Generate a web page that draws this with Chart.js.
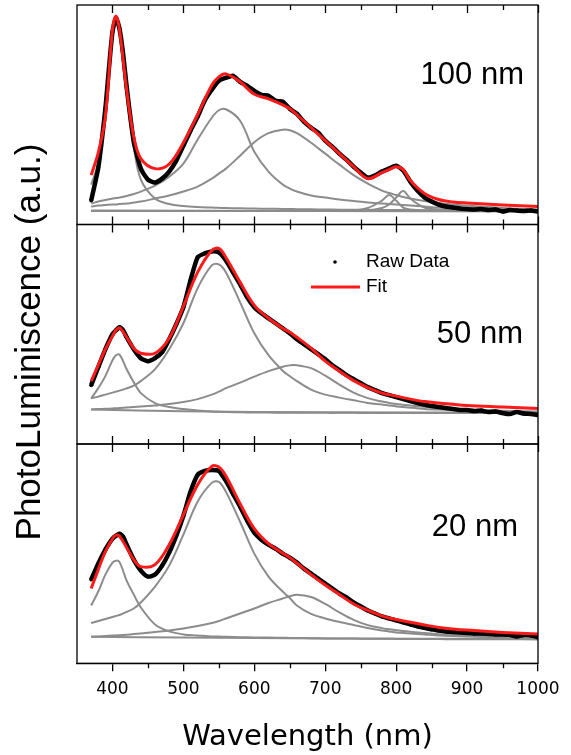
<!DOCTYPE html>
<html>
<head>
<meta charset="utf-8">
<script src="https://cdn.jsdelivr.net/npm/chart.js@4.4.1/dist/chart.umd.min.js"></script>
<style>
  html, body { margin: 0; background: #fff; }
  #wrap { position: relative; width: 571px; height: 755px; }
  #wrap canvas { position: absolute; left: 0; top: 0; }
</style>
</head>
<body>
<div id="wrap">
  <canvas id="p100" width="571" height="755"></canvas>
  <canvas id="p50" width="571" height="755"></canvas>
  <canvas id="p20" width="571" height="755"></canvas>
</div>
<script>
// wavelength grids (nm)
const wlRaw = [370, 380, 390, 395, 400, 405, 410, 415, 420, 430, 440, 450, 460, 470, 480, 490, 500, 510, 520, 530,
  540, 550, 560, 570, 580, 590, 600, 610, 620, 630, 640, 650, 660, 670, 680, 690, 700, 710, 720, 730,
  740, 750, 760, 770, 780, 790, 800, 810, 820, 830, 840, 850, 860, 870, 880, 890, 900, 910, 920, 930,
  940, 950, 960, 970, 980, 990, 1000];
const wlFit = [370, 380, 390, 400, 405, 410, 420, 430, 440, 460, 480, 500, 520, 540, 550, 560, 580, 600, 620, 640,
  650, 660, 680, 700, 720, 740, 760, 780, 790, 800, 810, 820, 840, 860, 880, 900, 950, 1000];
const xTicks = [400, 450, 500, 550, 600, 650, 700, 750, 800, 850, 900, 950, 1000];

// 100 nm
const raw100 = [24, 57, 116, 156, 193, 207, 196, 171, 138, 83, 56, 45, 42, 46, 53, 64, 79, 94, 108, 124,
  135, 144, 147, 149, 143, 139, 134, 130, 129, 124, 123, 116, 111, 103, 97, 92, 84, 78, 71, 65,
  58, 52, 47, 49, 53, 56, 59, 54, 43, 34, 27, 23, 20, 18, 17, 16, 15.5, 15, 15.5, 14.5,
  15, 13, 14.5, 14, 13.5, 14, 13];
const fit100 = [49.5, 72, 108, 195, 209, 195, 135, 88, 66, 56, 60.5, 82, 110, 139.5, 148, 151, 143, 130.5, 126, 120,
  116, 110, 97, 84, 71, 58, 46, 52, 55, 58, 55, 44, 31, 25, 22.5, 21.5, 19.5, 18];
const pk405_100 = [40, 62, 110, 188, 205, 192, 128, 78, 45, 26, 20.5, 18.5, 17.5, 17, 16.8, 16.5, 16.2, 16, 15.8, 15.6,
  15.5, 15.4, 15.2, 15, 14.9, 14.8, 14.7, 14.6, 14.6, 14.5, 14.5, 14.4, 14.3, 14.2, 14.1, 14, 14, 14];
const pk555_100 = [21, 23, 24.5, 26, 26.5, 27, 28.5, 30.5, 33, 39, 48, 61, 85, 107, 114.5, 115.5, 104, 73, 53, 40,
  36, 33, 29, 27, 25, 23.5, 22, 21, 20.5, 20, 19.5, 19, 18, 17, 16.5, 16, 15, 14.5];
const pk645_100 = [18, 19, 19.5, 20, 20, 20.5, 21, 22, 23, 26, 29, 33, 38, 46, 51, 56, 69, 82.5, 91.5, 95,
  94.5, 91.5, 82, 71, 60, 49.5, 41, 34, 31.5, 29.5, 27.5, 26, 23.5, 21.5, 20, 18.8, 16.5, 15];
const pk790X = [370, 700, 740, 760, 780, 790, 800, 810, 820, 840, 880, 1000];
const pk790_100 = [13.6, 13.6, 14, 16.5, 24, 29.5, 24, 17, 15, 14, 13.6, 13.5];
const pk810X = [370, 720, 760, 780, 790, 800, 810, 820, 840, 860, 880, 900, 1000];
const pk810_100 = [13.6, 13.6, 14, 16.5, 20, 27, 33.5, 26, 17, 15, 14.5, 14, 13.5];
const baseX100 = [370, 1000];
const base100 = [14, 13];

// 50 nm
const raw50 = [59, 77, 95, 103, 110, 114, 117, 114, 107, 95, 86, 83, 86, 92, 105, 120, 137, 164, 187, 191,
  193, 192, 184, 172, 160, 147, 137, 131, 126, 121, 116, 111, 105, 100, 95, 90, 85, 79, 74, 69,
  65, 61, 57, 54, 51, 49, 47, 45, 43, 41, 39.5, 38, 37, 36, 35, 34, 34, 33, 33.5, 32,
  32.5, 31, 30, 32, 30.5, 30, 29];
const fit50 = [63, 79, 95, 108, 114, 116.5, 107, 96, 91, 91, 106, 138, 172, 194, 196, 187, 162, 139, 126, 116,
  112, 107, 96, 83, 73, 63.5, 56.5, 51, 49.5, 48, 46.5, 45, 42.5, 41, 39.8, 38.7, 37.2, 35.7];
const pk408_50 = [45.7, 56, 68, 84, 89, 89.5, 75, 62, 51, 41, 37, 35, 33.5, 32.5, 32.3, 32, 31.8, 31.6, 31.5, 31.4,
  31.4, 31.3, 31.3, 31.2, 31.2, 31.2, 31.1, 31.1, 31.1, 31.1, 31, 31, 31, 31, 31, 31, 31, 31];
const pk545_50 = [45.7, 47.5, 49.5, 51.5, 52.5, 53.5, 55.7, 58.5, 63, 75, 95, 121, 156, 179, 180, 172, 142, 111, 89, 73.5,
  68, 63, 54.5, 49.5, 46.5, 43.8, 41.2, 39.5, 38.5, 37.7, 37, 36.3, 35.2, 34.5, 34, 33.5, 32.7, 32];
const pk655_50 = [34.7, 35, 35.3, 35.6, 35.8, 36, 36.5, 37, 37.6, 38.7, 40, 42, 45, 49.5, 52.5, 56, 61.5, 67.5, 73, 77.5,
  78.8, 79, 76, 68.5, 59.5, 51.5, 46, 42.5, 41.2, 40.2, 39.4, 38.6, 37.3, 36.1, 35.1, 34.4, 33.3, 32.5];
const baseX = [370, 500, 700, 1000];
const base50 = [34.7, 32.8, 31.8, 31.5];

// 20 nm
const raw20 = [84, 100, 114, 120, 125, 128, 130, 127, 119, 104, 93, 87, 89, 98, 111, 128, 148, 172, 189, 193,
  194, 193, 183, 170, 157, 143, 131, 124, 119, 115, 110, 106, 101, 95, 90, 85, 80, 75, 70, 66,
  61, 57, 53, 50, 47, 45, 43, 41, 39, 37, 35.5, 34, 33, 32, 31.5, 31, 30.5, 30, 30, 29.5,
  29, 29, 28.5, 27, 28.5, 28, 26];
const fit20 = [75, 94, 112, 125, 128.5, 127.5, 116, 104, 97, 99, 119, 149, 179, 197.5, 197, 188, 160, 135, 120, 110.5,
  106, 100.5, 89, 78.5, 69, 59.5, 53, 47.5, 45.5, 44, 42.5, 41.2, 38.5, 36, 34.5, 33.3, 31, 29.3];
const pk404_20 = [58, 72, 89, 101, 103, 101.5, 83, 69, 56, 39, 32, 29, 28, 27, 26.8, 26.6, 26.2, 26, 25.8, 25.6,
  25.5, 25.4, 25.2, 25, 24.9, 24.8, 24.7, 24.6, 24.6, 24.5, 24.5, 24.4, 24.3, 24.3, 24.2, 24.2, 24.1, 24];
const pk543_20 = [40.5, 42.5, 44.5, 46.5, 47.5, 48.5, 51.5, 55, 61, 77, 98, 129, 162, 181, 182, 172, 142, 110, 87, 72,
  65.5, 58, 49.5, 45, 41.5, 38.5, 35.5, 33, 32, 31, 30.5, 30, 29, 28, 27.3, 26.8, 25.8, 25];
const pk665_20 = [26.6, 27, 27.4, 27.8, 28, 28.2, 28.7, 29.3, 30, 31.5, 33, 35, 37.5, 40.5, 42.5, 45, 50, 55, 60.5, 65,
  67.3, 68.8, 66.5, 59.5, 51, 43.5, 38.3, 35.3, 34.2, 33.2, 32.4, 31.7, 30.3, 29.2, 28.3, 27.6, 26.3, 25.2];
const base20 = [26.6, 25.8, 25, 24.3];

const pts = (xs, ys) => xs.map((x, i) => ({ x: x, y: ys[i] }));

const GRAY = "#8c8c8c";
const RED = "#ff1a1a";

function panelDatasets(raw, fit, comps) {
  const sets = [
    { label: "Fit", data: pts(wlFit, fit), borderColor: RED, borderWidth: 3, pointRadius: 0 },
    {
      label: "Raw Data", data: pts(wlRaw, raw), borderColor: "#000", borderWidth: 4.5, tension: 0.2,
      pointRadius: 2, pointBackgroundColor: "#000", pointBorderWidth: 0,
    },
  ];
  comps.forEach((c) => {
    sets.push({ label: "", data: pts(c[0], c[1]), borderColor: GRAY, borderWidth: 2, pointRadius: 0 });
  });
  return sets;
}

// frame, inside ticks, panel label, legend and y title
const framePlugin = {
  id: "frame",
  afterDatasetsDraw(chart, args, opts) {
    const { ctx, chartArea: a } = chart;
    const x = chart.scales.x;
    ctx.save();
    ctx.strokeStyle = "#000";
    ctx.lineWidth = 1.3;
    ctx.strokeRect(a.left, a.top, a.right - a.left, a.bottom - a.top);
    ctx.beginPath();
    xTicks.forEach((v) => {
      const px = Math.round(x.getPixelForValue(v)) + 0.5;
      const len = v % 100 === 0 ? 8 : 5;
      ctx.moveTo(px, a.top);
      ctx.lineTo(px, a.top + len);
      if (opts.innerBottom) {
        ctx.moveTo(px, a.bottom);
        ctx.lineTo(px, a.bottom - len);
      } else if (v % 100 !== 0) {
        ctx.moveTo(px, a.bottom);
        ctx.lineTo(px, a.bottom + len);
      }
    });
    ctx.stroke();

    ctx.fillStyle = "#000";
    ctx.font = "31px 'Liberation Sans', Arial, sans-serif";
    ctx.textAlign = "right";
    ctx.textBaseline = "middle";
    ctx.fillText(opts.label, opts.labelX, opts.labelY);

    if (opts.legend) {
      const fitSet = chart.data.datasets[0];
      ctx.beginPath();
      ctx.arc(335, 262, 1.8, 0, Math.PI * 2);
      ctx.fill();
      ctx.strokeStyle = fitSet.borderColor;
      ctx.lineWidth = 3;
      ctx.beginPath();
      ctx.moveTo(311, 287);
      ctx.lineTo(360, 287);
      ctx.stroke();
      ctx.font = "19px 'Liberation Sans', Arial, sans-serif";
      ctx.textAlign = "left";
      ctx.fillText("Raw Data", 366, 262);
      ctx.fillText("Fit", 366, 287);
    }
    if (opts.yTitle) {
      ctx.translate(30, 342);
      ctx.rotate(-Math.PI / 2);
      ctx.font = "35px 'Liberation Sans', Arial, sans-serif";
      ctx.textAlign = "center";
      ctx.fillText("PhotoLuminiscence (a.u.)", 0, 0);
    }
    ctx.restore();
  },
};

function makeChart(id, datasets, pad, frameOpts, showX) {
  const xScale = {
    type: "linear",
    min: 350,
    max: 1000,
    display: showX,
    border: { color: "#000", width: 1.3 },
    grid: { drawOnChartArea: false, drawTicks: true, tickLength: 8, color: "#000", lineWidth: 1.3 },
    ticks: {
      stepSize: 100, includeBounds: false, padding: 8, color: "#000", maxRotation: 0, autoSkip: false,
      font: { family: "'DejaVu Sans'", size: 17 },
      callback: (v) => String(v),
    },
    title: {
      display: true, text: "Wavelength (nm)", color: "#000",
      font: { family: "'DejaVu Sans'", size: 29 }, padding: { top: 12.5, bottom: 0 },
    },
  };
  return new Chart(document.getElementById(id), {
    type: "line",
    data: { datasets: datasets },
    options: {
      responsive: false,
      animation: false,
      devicePixelRatio: 1,
      events: [],
      layout: { padding: pad },
      elements: { line: { tension: 0.35, fill: false } },
      plugins: { legend: { display: false }, tooltip: { enabled: false }, frame: frameOpts },
      scales: {
        x: xScale,
        y: { display: false, min: 0, max: 220 },
      },
    },
    plugins: [framePlugin],
  });
}

makeChart(
  "p100",
  panelDatasets(raw100, fit100, [
    [wlFit, pk405_100], [wlFit, pk555_100], [wlFit, pk645_100],
    [pk790X, pk790_100], [pk810X, pk810_100], [baseX100, base100],
  ]),
  { left: 77, right: 33, top: 5, bottom: 530.5 },
  { label: "100 nm", labelX: 524, labelY: 75, innerBottom: true },
  false
);

makeChart(
  "p50",
  panelDatasets(raw50, fit50, [
    [wlFit, pk408_50], [wlFit, pk545_50], [wlFit, pk655_50], [baseX, base50],
  ]),
  { left: 77, right: 33, top: 224.5, bottom: 311 },
  { label: "50 nm", labelX: 523, labelY: 334, innerBottom: true, legend: true, yTitle: true },
  false
);

makeChart(
  "p20",
  panelDatasets(raw20, fit20, [
    [wlFit, pk404_20], [wlFit, pk543_20], [wlFit, pk665_20], [baseX, base20],
  ]),
  { left: 77, right: 33, top: 444, bottom: 0 },
  { label: "20 nm", labelX: 518, labelY: 527, innerBottom: false },
  true
);
</script>
</body>
</html>
